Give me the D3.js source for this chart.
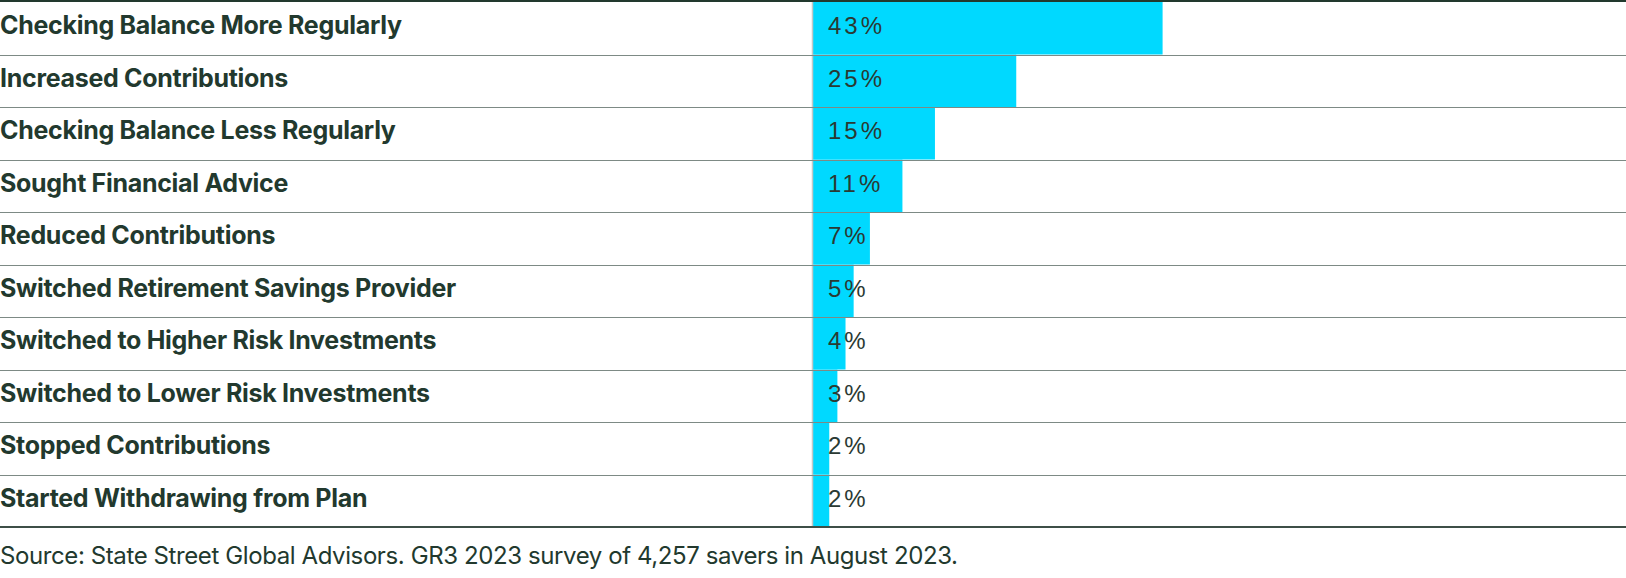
<!DOCTYPE html>
<html><head><meta charset="utf-8">
<script src="https://cdn.jsdelivr.net/npm/d3@7"></script>
<style>
html,body{margin:0;padding:0;background:#fff;}
svg{display:block;}
</style></head>
<body>
<svg id="chart" width="1626" height="578"></svg>
<script>
const categories = [
  "Checking Balance More Regularly",
  "Increased Contributions",
  "Checking Balance Less Regularly",
  "Sought Financial Advice",
  "Reduced Contributions",
  "Switched Retirement Savings Provider",
  "Switched to Higher Risk Investments",
  "Switched to Lower Risk Investments",
  "Stopped Contributions",
  "Started Withdrawing from Plan"
];
const values = [43, 25, 15, 11, 7, 5, 4, 3, 2, 2];
const sourceNote = "Source: State Street Global Advisors. GR3 2023 survey of 4,257 savers in August 2023.";

const W = 1626, H = 578;
const dark = "#22392e";
const svg = d3.select("#chart");

const x = d3.scaleLinear().domain([0, 100]).range([813, 1626]);
const y = d3.scaleBand().domain(categories).range([2, 527]).padding(0);

// bars
svg.append("g").selectAll("rect").data(categories).join("rect")
  .attr("x", x(0))
  .attr("y", d => y(d))
  .attr("width", (d, i) => x(values[i]) - x(0))
  .attr("height", y.bandwidth())
  .attr("fill", "#00d9ff");

// vertical baseline
svg.append("line")
  .attr("x1", x(0) - 0.5).attr("x2", x(0) - 0.5)
  .attr("y1", 2).attr("y2", 527)
  .attr("stroke", "#c4c9c7").attr("stroke-width", 1.5);

// row separators
svg.append("g").selectAll("line").data(categories.slice(1)).join("line")
  .attr("x1", 0).attr("x2", W)
  .attr("y1", d => Math.round(y(d)) + 0.5)
  .attr("y2", d => Math.round(y(d)) + 0.5)
  .attr("stroke", "#7d8a85").attr("stroke-width", 1.2);

// top & bottom rules
svg.append("rect").attr("x", 0).attr("y", 0).attr("width", W).attr("height", 2).attr("fill", dark);
svg.append("rect").attr("x", 0).attr("y", 526).attr("width", W).attr("height", 2).attr("fill", "#3d4f47");

// category labels
svg.append("g").selectAll("text").data(categories).join("text")
  .attr("x", 0)
  .attr("y", d => y(d) + y.bandwidth() / 2 + 6)
  .attr("fill", dark)
  .attr("font-family", "Inter, 'Noto Sans', sans-serif")
  .attr("font-weight", 700)
  .attr("font-size", 25)
  .attr("letter-spacing", "-0.3px")
  .text(d => d);

// value labels
svg.append("g").selectAll("text").data(categories).join("text")
  .attr("x", 828)
  .attr("y", d => y(d) + y.bandwidth() / 2 + 6)
  .attr("fill", "#2a3a33")
  .attr("font-family", "'Liberation Sans', sans-serif")
  .attr("font-size", 24)
  .attr("letter-spacing", "3px")
  .text((d, i) => values[i] + "%");

// source
svg.append("text")
  .attr("x", 0).attr("y", 564)
  .attr("fill", dark)
  .attr("font-family", "Inter, 'Noto Sans', sans-serif")
  .attr("font-size", 24)
  .attr("letter-spacing", "-0.4px")
  .text(sourceNote);
</script>
</body></html>
